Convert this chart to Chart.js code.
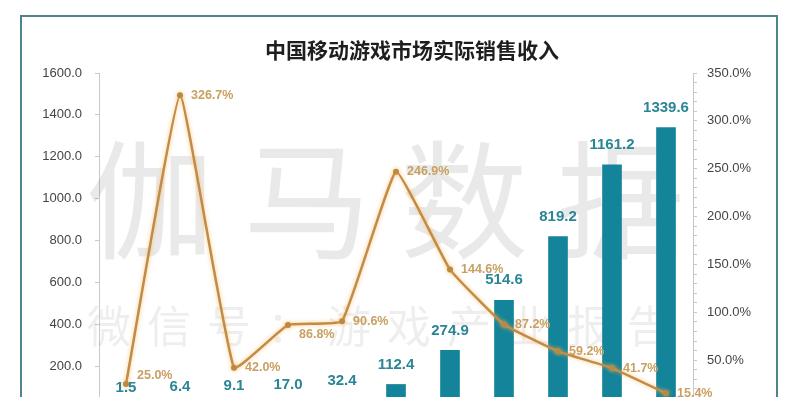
<!DOCTYPE html>
<html>
<head>
<meta charset="utf-8">
<script src="https://cdn.jsdelivr.net/npm/chart.js@4"></script>
<style>
  html, body { margin: 0; padding: 0; background: #fff; overflow: hidden; }
  #wrap { position: relative; width: 793px; height: 450px; }
  #frame { position: absolute; left: 20px; top: 15px; width: 758px; height: 500px; border: 2px solid #4f848b; box-sizing: border-box; }
  #title { position: absolute; left: 0; width: 824px; top: 34px; text-align: center; font: bold 21px "Noto Sans CJK SC", sans-serif; color: #1e1e1e; }
  #cv { position: absolute; left: 0; top: 0; }
</style>
</head>
<body>
<div id="wrap">
  <div id="frame"></div>
  <canvas id="cv" width="793" height="450"></canvas>
  <div id="title">中国移动游戏市场实际销售收入</div>
</div>
<script>
const years = ['2008', '2009', '2010', '2011', '2012', '2013', '2014', '2015', '2016', '2017', '2018'];
const revenue = [1.5, 6.4, 9.1, 17.0, 32.4, 112.4, 274.9, 514.6, 819.2, 1161.2, 1339.6];
const growth = [25.0, 326.7, 42.0, 86.8, 90.6, 246.9, 144.6, 87.2, 59.2, 41.7, 15.4];

const barColor = '#14849a';
const lineColor = '#c08c48';

// faint watermark behind the marks
const watermark = {
    id: 'watermark',
    beforeDatasetsDraw(chart) {
        const c = chart.ctx;
        c.save();
        c.textAlign = 'center';
        c.textBaseline = 'middle';
        c.fillStyle = 'rgba(0,0,0,0.085)';
        c.font = '128px "Noto Sans CJK SC", sans-serif';
        '伽马数据'.split('').forEach((ch, i) => c.fillText(ch, 150 + i * 157, 200));
        c.fillStyle = 'rgba(0,0,0,0.065)';
        c.font = '44px "Noto Sans CJK SC", sans-serif';
        '微信号：游戏产业报告'.split('').forEach((ch, i) => c.fillText(ch, 109 + i * 60, 326));
        c.restore();
    }
};

const glow = {
    id: 'glow',
    beforeDatasetDraw(chart, args) {
        if (args.index !== 1) return;
        chart.ctx.save();
        chart.ctx.shadowColor = 'rgba(255,175,70,0.7)';
        chart.ctx.shadowBlur = 4;
    },
    afterDatasetDraw(chart, args) {
        if (args.index !== 1) return;
        chart.ctx.restore();
    }
};

const valueLabels = {
    id: 'valueLabels',
    afterDatasetsDraw(chart) {
        const c = chart.ctx;
        c.save();
        c.textBaseline = 'middle';
        c.textAlign = 'center';
        c.fillStyle = '#2a8595';
        c.font = 'bold 15px "Liberation Sans", sans-serif';
        chart.getDatasetMeta(0).data.forEach((el, i) => {
            c.fillText(revenue[i].toFixed(1), el.x, el.y - 20);
        });
        c.textAlign = 'left';
        c.fillStyle = '#c9a062';
        c.font = 'bold 12.5px "Liberation Sans", sans-serif';
        const nudge = {0: -9, 3: 10};
        chart.getDatasetMeta(1).data.forEach((el, i) => {
            c.fillText(growth[i].toFixed(1) + '%', el.x + 11, el.y + (nudge[i] || 0));
        });
        c.restore();
    }
};

new Chart(document.getElementById('cv'), {
    data: {
        labels: years,
        datasets: [
        {
            type: 'bar',
            label: '实际销售收入',
            data: revenue,
            backgroundColor: barColor,
            barThickness: 19,
            yAxisID: 'y',
            order: 2
        },
        {
            type: 'line',
            label: '增长率',
            data: growth,
            borderColor: lineColor,
            borderWidth: 2.5,
            backgroundColor: '#b98a45',
            pointRadius: 3,
            pointBorderWidth: 0,
            tension: 0.1,
            yAxisID: 'y2',
            order: 1
        }]
    },
    options: {
        responsive: false,
        animation: false,
        layout: { padding: { top: 73, left: 0, right: 0, bottom: 0 } },
        plugins: { legend: { display: false }, tooltip: { enabled: false } },
        scales: {
            x: {
                grid: { display: false },
                border: { color: '#c8c8c8' },
                ticks: { color: '#444', font: { size: 13 } },
                afterFit(s) { s.height = 42; }
            },
            y: {
                position: 'left',
                min: 0,
                max: 1600,
                ticks: {
                    stepSize: 200,
                    padding: 13,
                    color: '#444',
                    font: { family: 'Liberation Sans', size: 13 },
                    callback: v => v.toFixed(1)
                },
                grid: { drawOnChartArea: false, tickLength: 4, color: '#c8c8c8' },
                border: { color: '#c8c8c8' },
                afterFit(s) { s.width = 99; }
            },
            y2: {
                position: 'right',
                min: 0,
                max: 350,
                ticks: {
                    stepSize: 10,
                    autoSkip: false,
                    padding: 10,
                    color: '#444',
                    font: { family: 'Liberation Sans', size: 13 },
                    callback: v => (v % 50 === 0 ? v.toFixed(1) + '%' : '')
                },
                grid: { drawOnChartArea: false, tickLength: 4, color: '#c8c8c8' },
                border: { color: '#c8c8c8' },
                afterFit(s) { s.width = 100; }
            }
        }
    },
    plugins: [watermark, glow, valueLabels]
});
</script>
</body>
</html>
